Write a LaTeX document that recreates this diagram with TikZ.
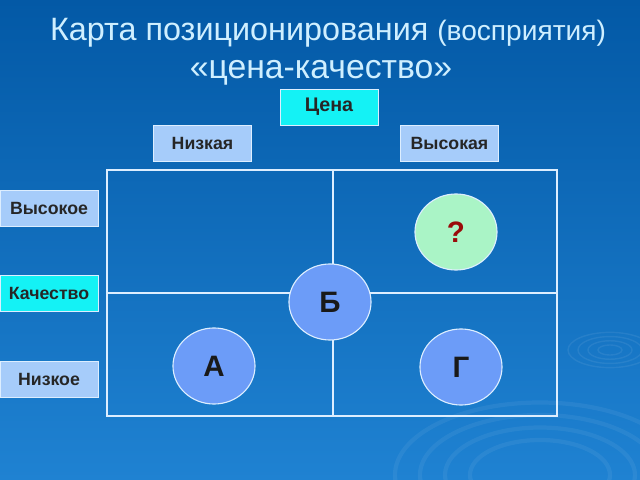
\documentclass[tikz,border=0pt]{standalone}
\usepackage{fontspec}
\setmainfont{Liberation Sans}
\usepackage{xcolor}
\usetikzlibrary{shapes.geometric, positioning}
\definecolor{bgtop}{HTML}{0359A6}
\definecolor{bgbottom}{HTML}{1F82D2}
\definecolor{titlecol}{HTML}{CFEFFF}
\definecolor{cyanbox}{HTML}{14F2F5}
\definecolor{lightbox}{HTML}{A6CCFA}
\definecolor{gridline}{HTML}{DDEEFF}
\definecolor{bluedot}{HTML}{6C9CF8}
\definecolor{greendot}{HTML}{AAF4C6}
\definecolor{qred}{HTML}{9A0A0A}

\begin{document}
\begin{tikzpicture}[
    x=0.025cm, y=-0.025cm,
    every node/.style={font=\small},
    label box/.style={
        rectangle,
        draw=gridline,
        fill=lightbox,
        line width=0.6pt,
        minimum height=0.9cm,
        minimum width=2.45cm,
        text centered,
        inner sep=0pt,
        font=\fontsize{12.6}{14}\selectfont\bfseries,
        text=black!85
    },
    axis box/.style={
        label box,
        fill=cyanbox
    },
    brand/.style={
        ellipse,
        draw=gridline,
        fill=bluedot,
        line width=0.8pt,
        minimum width=2.05cm,
        minimum height=1.9cm,
        inner sep=0pt,
        font=\fontsize{21}{24}\selectfont\bfseries,
        text=black!90
    }
]

% Background
\useasboundingbox (0,0) rectangle (640,480);
\shade[top color=bgtop, bottom color=bgbottom] (0,0) rectangle (640,480);
\foreach \r in {12,22,32,42} {
    \draw[white, opacity=0.07, line width=1pt] (610,350) ellipse ({\r} and {\r*0.42});
}
\foreach \r in {70,95,120,145} {
    \draw[white, opacity=0.06, line width=3pt] (540,475) ellipse ({\r} and {\r*0.5});
}

% Title
\node[text=titlecol, font=\fontsize{23}{26}\selectfont] (title) at (328,33)
    {Карта позиционирования {\fontsize{20}{22}\selectfont(восприятия)}};
\node[text=titlecol, font=\fontsize{24}{27}\selectfont] (subtitle) at (321,73)
    {«цена-качество»};

% Price axis labels
\node[axis box, font=\fontsize{14}{16}\selectfont\bfseries] (price) at (329,107) {Цена};
\node[label box] (low) at (202.5,143) {Низкая};
\node[label box] (high) at (449.5,143) {Высокая};

% Grid
\draw[gridline, line width=1.4pt] (107,170) rectangle (557,416);
\draw[gridline, line width=1.4pt] (333,170) -- (333,416);
\draw[gridline, line width=1.4pt] (107,293) -- (557,293);

% Quality axis labels
\node[label box] (qhigh) at (49,208.5) {Высокое};
\node[axis box] (quality) at (49,293.5) {Качество};
\node[label box] (qlow) at (49,379) {Низкое};

% Brands
\node[brand, fill=greendot, text=qred] (unknown) at (456,232) {?};
\node[brand] (b) at (330,302) {Б};
\node[brand] (a) at (214,366) {А};
\node[brand] (g) at (461,367) {Г};

\end{tikzpicture}
\end{document}
